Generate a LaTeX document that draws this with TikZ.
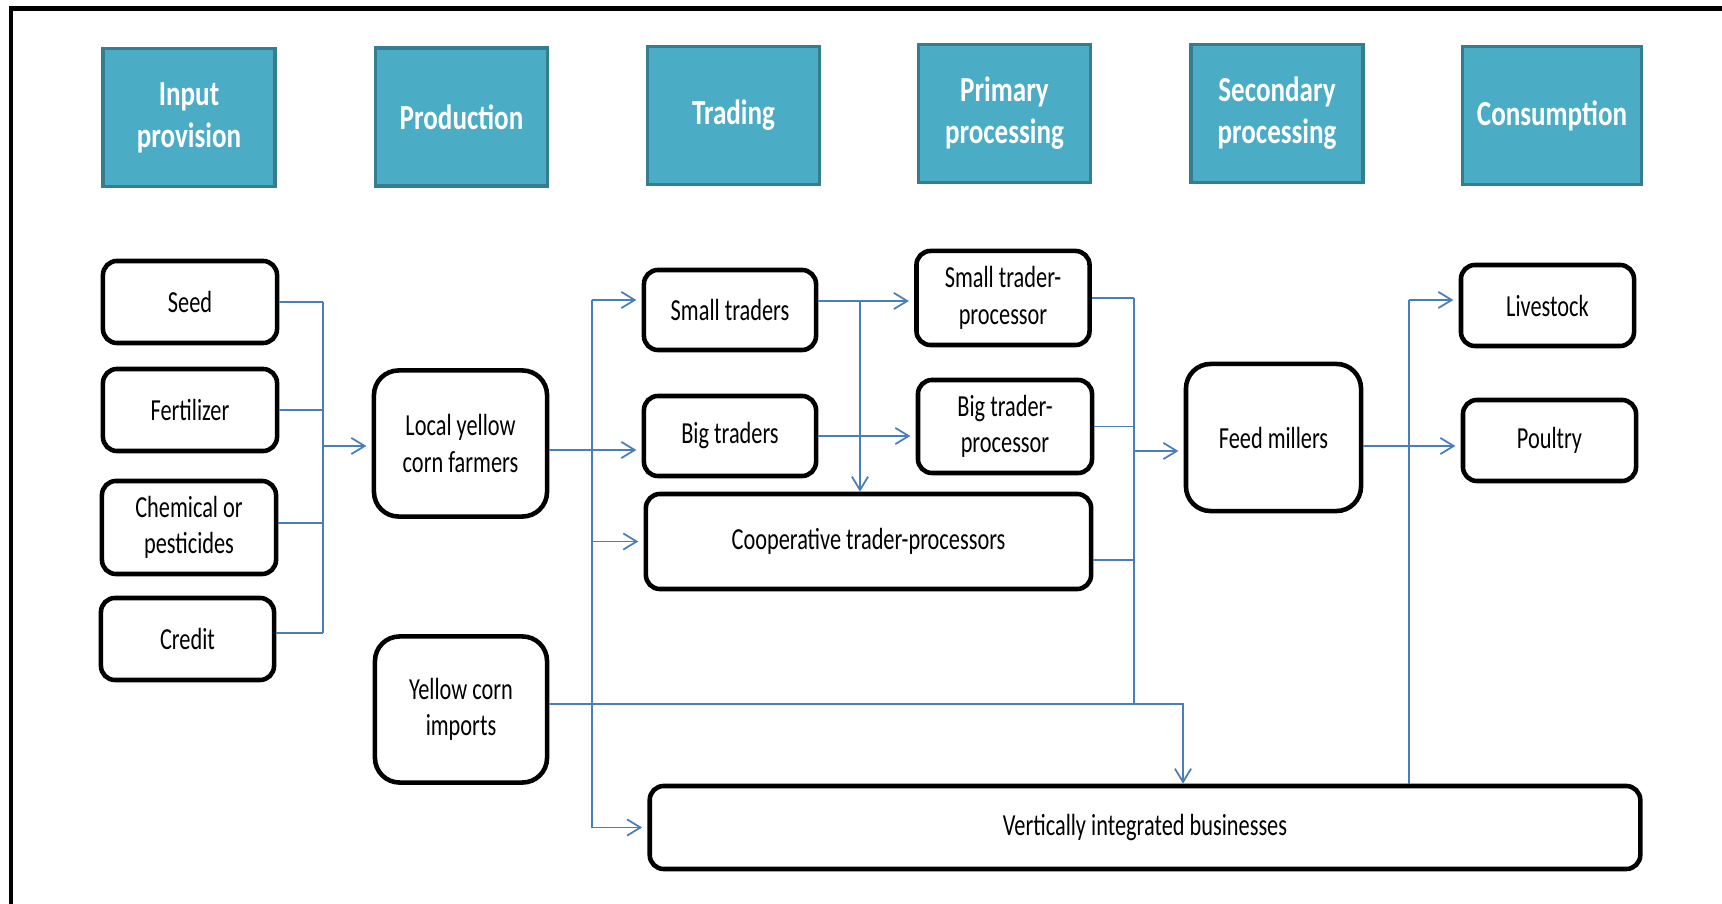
\documentclass[tikz,border=0pt]{standalone}
\usepackage{fontspec}
\setmainfont{Carlito}[FakeStretch=0.73]
\newfontfamily\headfont{Carlito}[FakeStretch=0.77]
\usetikzlibrary{arrows.meta}
\definecolor{headfill}{HTML}{4BACC6}
\definecolor{headline}{HTML}{357D91}
\definecolor{linkblue}{HTML}{4A7EBB}
\tikzset{
  stage/.style={draw=headline, fill=headfill, line width=1pt, minimum width=1.72cm,
    minimum height=1.38cm, align=center, text=white,
    font=\headfont\bfseries\fontsize{10}{12}\selectfont},
  actor/.style={draw, line width=1.3pt, rounded corners=4pt, align=center, inner sep=0pt,
    font=\fontsize{8.7}{10.4}\selectfont},
  bigactor/.style={actor, rounded corners=7pt},
  link/.style={linkblue, line width=0.5pt},
  arr/.style={link, -{Straight Barb[length=3.8pt,width=4.6pt]}, shorten >=1.5pt},
  downarr/.style={arr, shorten >=0pt}
}

\begin{document}
\begin{tikzpicture}[x=0.01cm,y=-0.01cm]
\useasboundingbox (0,0) rectangle (1722,904);
\draw[line width=1.4pt] (11,910) -- (11,8.5) -- (1730,8.5);

% stages
\node[stage] (hin) at (189,117.5) {Input\\provision};
\node[stage] (hprod) at (461.5,117) {Production};
\node[stage] (htrad) at (733.5,115.5) {Trading};
\node[stage] (hprim) at (1004.5,113.5) {Primary\\processing};
\node[stage] (hsec) at (1277,113.5) {Secondary\\processing};
\node[stage, minimum width=1.79cm] (hcons) at (1552,115.5) {Consumption};

% actors
\node[actor, minimum width=1.74cm, minimum height=0.82cm] (seed) at (190,302) {Seed};
\node[actor, minimum width=1.74cm, minimum height=0.82cm] (fert) at (190,410) {Fertilizer};
\node[actor, minimum width=1.74cm, minimum height=0.93cm] (chem) at (189,527.5) {Chemical or\\pesticides};
\node[actor, minimum width=1.73cm, minimum height=0.82cm] (cred) at (187.5,639) {Credit};
\node[bigactor, minimum width=1.73cm, minimum height=1.46cm] (local) at (460.5,443.5) {Local yellow\\corn farmers};
\node[bigactor, minimum width=1.72cm, minimum height=1.46cm] (imports) at (461,709.5) {Yellow corn\\imports};
\node[actor, minimum width=1.72cm, minimum height=0.80cm] (small) at (730,310) {Small traders};
\node[actor, minimum width=1.72cm, minimum height=0.80cm] (big) at (730,436) {Big traders};
\node[actor, minimum width=4.45cm, minimum height=0.95cm] (coop) at (868.5,541.5) {Cooperative trader-processors};
\node[actor, minimum width=1.73cm, minimum height=0.94cm] (stp) at (1003,298) {Small trader-\\processor};
\node[actor, minimum width=1.74cm, minimum height=0.93cm] (btp) at (1005,426.5) {Big trader-\\processor};
\node[bigactor, minimum width=1.75cm, minimum height=1.47cm] (feed) at (1273.5,437.5) {Feed millers};
\node[actor, minimum width=1.73cm, minimum height=0.81cm] (live) at (1547.5,305.5) {Livestock};
\node[actor, minimum width=1.73cm, minimum height=0.81cm] (poul) at (1549.5,440.5) {Poultry};
\node[actor, minimum width=9.90cm, minimum height=0.83cm] (vib) at (1145,827.5) {Vertically integrated businesses};

% inputs to farmers
\coordinate (lbus) at (323,446);
\draw[link] (seed.east) -- (seed.east -| lbus);
\draw[link] (fert.east) -- (fert.east -| lbus);
\draw[link] (chem.east |- 0,523) -- (lbus |- 0,523);
\draw[link] (cred.east |- 0,633) -- (lbus |- 0,633);
\draw[link] (seed.east -| lbus) -- (lbus |- 0,633);
\draw[arr] (lbus) -- (local.west |- lbus);

% farmers to traders
\coordinate (tbus) at (592,450);
\draw[link] (local.east |- tbus) -- (tbus);
\draw[arr] (tbus) -- (big.west |- tbus);
\draw[link] (tbus |- 0,300) -- (tbus |- vib.west);
\draw[arr] (tbus |- 0,300) -- (small.west |- 0,300);
\draw[arr] (tbus |- coop.west) -- (coop.west);
\draw[arr] (tbus |- vib.west) -- (vib.west);

% traders to processors
\coordinate (sbr) at (860,301);
\draw[link] (small.east |- sbr) -- (sbr);
\draw[arr] (sbr) -- (stp.west |- sbr);
\draw[downarr] (sbr) -- (sbr |- coop.north);
\draw[arr] (big.east) -- (big.east -| btp.west);

% processors to feed millers
\coordinate (pbus) at (1134,451);
\coordinate (pend) at (1134,704);
\draw[link] (stp.east) -- (stp.east -| pbus);
\draw[link] (btp.east) -- (btp.east -| pbus);
\draw[link] (coop.east |- 0,560) -- (pbus |- 0,560);
\draw[link] (pbus |- stp.east) -- (pend);
\draw[link] (imports.east |- pend) -- (pend);
\draw[downarr] (pend) -- (1183,704) -- (1183,0 |- vib.north);
\draw[arr] (pbus) -- (feed.west |- pbus);

% to consumption
\coordinate (cbus) at (1409,446);
\draw[arr] (feed.east |- cbus) -- (poul.west |- cbus);
\draw[link] (cbus |- vib.north) -- (cbus |- 0,300);
\draw[arr] (cbus |- 0,300) -- (live.west |- 0,300);
\end{tikzpicture}
\end{document}
